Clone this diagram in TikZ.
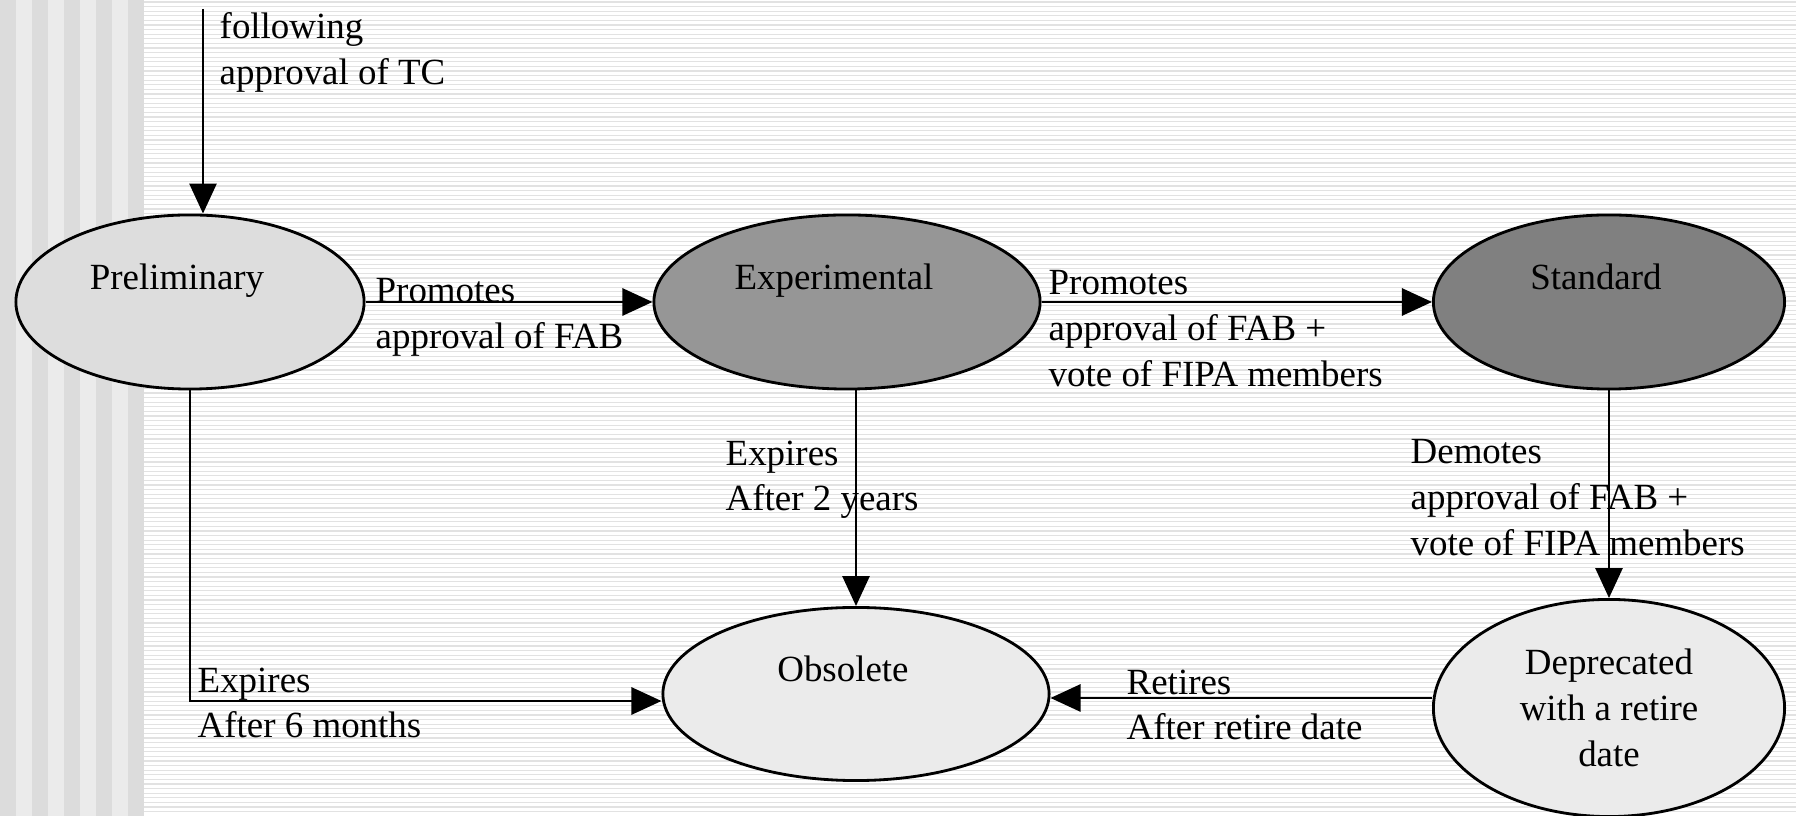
\documentclass[tikz,border=0pt]{standalone}
\usepackage{fontspec}
\setmainfont{Liberation Serif}
\usetikzlibrary{shapes.geometric, arrows.meta}
\definecolor{stripedark}{HTML}{DCDCDC}
\definecolor{stripelight}{HTML}{EBEBEB}
\definecolor{ruleline}{HTML}{E2E2E2}
\definecolor{prelfill}{HTML}{DDDDDD}
\definecolor{expfill}{HTML}{969696}
\definecolor{stdfill}{HTML}{808080}
\definecolor{palefill}{HTML}{EBEBEB}
\newcommand{\lblfont}{\fontsize{10.5}{13}\selectfont}

\begin{document}
\begin{tikzpicture}[x=0.01cm, y=-0.01cm,
    stage/.style={ellipse, draw, line width=0.8pt, inner sep=0pt, font=\lblfont},
    stagetop/.style={stage, text height=0.3cm, text depth=0.54cm,
      execute at end node={\hspace*{0.26cm}}},
    note/.style={anchor=north west, align=left, inner sep=0pt, font=\lblfont},
    arr/.style={line width=0.8pt, -{Triangle[length=0.3cm, width=0.27cm]}}]
  % Fondo (franjas a la izquierda, rayado fino)
  \useasboundingbox (0,0) rectangle (1796,816);
  \fill[white] (0,0) rectangle (1796,816);
  \fill[stripedark] (0,0) rectangle (144,816);
  \foreach \k in {0,...,3} { \fill[stripelight] (32*\k+16,0) rectangle (32*\k+32,816); }
  \foreach \y in {2,6.6,...,816} { \draw[ruleline, line width=0.3pt] (144,\y) -- (1796,\y); }
  % Estados
  \node[stagetop, fill=prelfill, minimum width=3.48cm, minimum height=1.74cm] (prel) at (190,302) {Preliminary};
  \node[stagetop, fill=expfill, minimum width=3.86cm, minimum height=1.74cm] (exp) at (847,302) {Experimental};
  \node[stagetop, fill=stdfill, minimum width=3.51cm, minimum height=1.74cm] (std) at (1609,302) {Standard};
  \node[stagetop, fill=palefill, minimum width=3.86cm, minimum height=1.73cm] (obs) at (856,694) {Obsolete};
  \node[stage, fill=palefill, align=center, minimum width=3.51cm, minimum height=2.17cm] (dep) at (1609,708) {Deprecated\\with a retire\\date};
  % Transiciones
  \coordinate (start) at (203,9);
  \draw[arr] (start) -- (start |- prel.north);
  \draw[arr] (prel.east) -- (exp.west);
  \draw[arr] (exp.east) -- (std.west);
  \draw[arr] (obs.north |- exp.south) -- (obs.north);
  \draw[arr] (std.south) -- (dep.north);
  \draw[arr] (prel.south) |- ([yshift=-0.07cm]obs.west);
  \draw[arr, transform canvas={yshift=-0.04cm}] (dep.west |- obs.east) -- (obs.east);
  % Etiquetas
  \node[note] (tclbl) at (219,12) {following\\approval of TC};
  \node[note] (pelbl) at (375,278) {Promotes\\approval of FAB};
  \node[note] (eslbl) at (1048,270) {Promotes\\approval of FAB +\\vote of FIPA members};
  \node[note] (eolbl) at (725,440) {Expires\\After 2 years};
  \node[note] (sdlbl) at (1410,439) {Demotes\\approval of FAB +\\vote of FIPA members};
  \node[note] (polbl) at (197,667) {Expires\\After 6 months};
  \node[note] (dolbl) at (1126,669) {Retires\\After retire date};
\end{tikzpicture}
\end{document}
